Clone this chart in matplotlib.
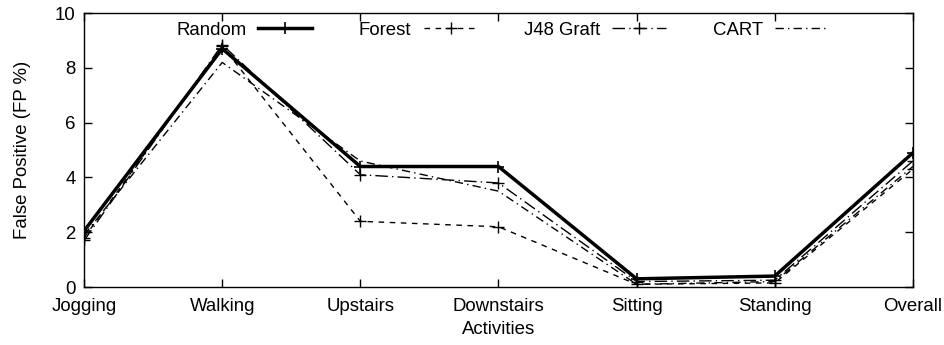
import matplotlib.pyplot as plt

plt.rcParams['font.family'] = ['Liberation Sans', 'DejaVu Sans']

activities = ["Jogging", "Walking", "Upstairs", "Downstairs", "Sitting", "Standing", "Overall"]
random_fp = [2.05, 8.7, 4.4, 4.4, 0.3, 0.4, 4.9]
forest_fp = [1.8, 8.8, 2.4, 2.2, 0.1, 0.15, 4.3]
j48_fp = [1.7, 8.85, 4.1, 3.8, 0.2, 0.25, 4.6]
cart_fp = [1.9, 8.2, 4.6, 3.5, 0.1, 0.2, 4.4]

x = list(range(len(activities)))
fs = 13.4

fig = plt.figure(figsize=(9.45, 3.45), dpi=100)
ax = fig.add_axes([0.089, 0.168, 0.877, 0.794])

ax.plot(x, random_fp, color="black", lw=2.5, marker="+", ms=8, mew=1.2, label="Random")
ax.plot(x, forest_fp, color="black", lw=1, ls=(0, (4, 4)), marker="+", ms=8, label="Forest")
ax.plot(x, j48_fp, color="black", lw=1, ls=(0, (9, 3, 1, 3)), marker="+", ms=8, label="J48 Graft")
ax.plot(x, cart_fp, color="black", lw=1, ls=(0, (6, 3, 1, 3)), label="CART")

ax.set_xlim(0, 6)
ax.set_ylim(0, 10)
ax.set_xticks(x)
ax.set_xticklabels(activities)
ax.set_yticks([0, 2, 4, 6, 8, 10])
ax.tick_params(direction="in", top=True, right=True, length=6, labelsize=fs, width=1)
ax.tick_params(axis="x", pad=8)
ax.tick_params(axis="y", pad=6)
for s in ax.spines.values():
    s.set_linewidth(1)

ax.set_xlabel("Activities", fontsize=fs, labelpad=4)
ax.set_ylabel("False Positive (FP %)", fontsize=fs, labelpad=17)

ax.legend(loc="center", ncol=4, frameon=False, markerfirst=False, fontsize=fs,
          handlelength=2.9, handletextpad=0.65, columnspacing=2.5, borderpad=0,
          bbox_to_anchor=(0.505, 0.938))

fig.savefig("out.png", dpi=100)
